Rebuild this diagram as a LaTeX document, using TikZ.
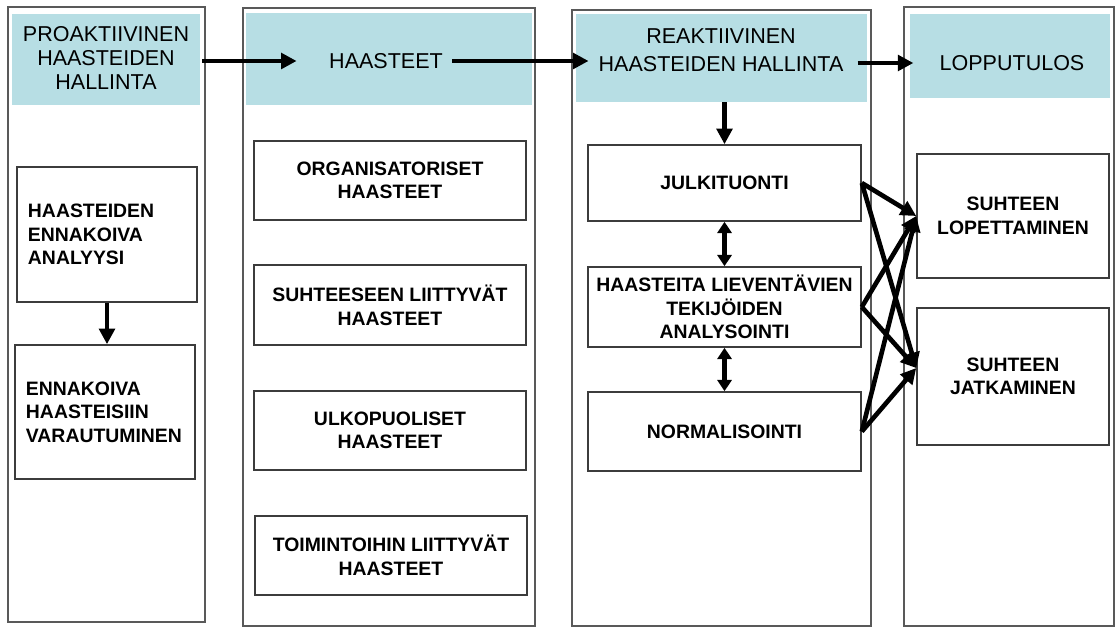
\documentclass[tikz,border=0pt]{standalone}
\usepackage{fontspec}
\setmainfont{Liberation Sans}
\usetikzlibrary{arrows.meta}
\definecolor{headfill}{RGB}{183,222,228}
\definecolor{boxline}{RGB}{60,60,60}
\begin{document}
\begin{tikzpicture}[x=0.025cm,y=-0.025cm,
    colframe/.style={draw=boxline!85,line width=0.9pt},
    headbox/.style={rectangle,fill=headfill,inner sep=0pt},
    headtext/.style={align=center,inner sep=0pt,font=\fontsize{15.3}{17.3}\selectfont},
    stepbox/.style={rectangle,draw=boxline,line width=1.1pt,align=center,
      font=\bfseries\fontsize{13.8}{16.8}\selectfont},
    leftbox/.style={stepbox,align=left,text width=3.95cm,inner xsep=0.275cm},
    arr/.style={line width=3.3pt,-{Triangle[length=11pt,width=11pt]}},
    darr/.style={line width=3.3pt,{Triangle[length=8pt,width=10pt]}-{Triangle[length=8pt,width=10pt]}}]
  \path[use as bounding box,fill=white] (0,0) rectangle (1115,628);

  \draw[colframe] (8,7) rectangle (205,622);
  \draw[colframe] (243,8) rectangle (535,626);
  \draw[colframe] (572,10) rectangle (871,626);
  \draw[colframe] (904,7) rectangle (1114,626);

  \node[headbox,minimum width=4.7cm,minimum height=2.275cm] (hf1) at (106,59.5) {};
  \node[headbox,minimum width=7.15cm,minimum height=2.3cm] (hf2) at (389,59) {};
  \node[headbox,minimum width=7.275cm,minimum height=2.2cm] (hf3) at (721.5,58) {};
  \node[headbox,minimum width=5cm,minimum height=2.1cm] (hf4) at (1010,56) {};

  \node[headtext] (h1) at (106,58) {PROAKTIIVINEN\\HAASTEIDEN\\HALLINTA};
  \node[headtext] (h2) at (386,61) {HAASTEET};
  \node[headtext] (h3) at (721,50) {REAKTIIVINEN\\[3pt]HAASTEIDEN HALLINTA};
  \node[headtext] (h4) at (1012,63) {LOPPUTULOS};

  \node[leftbox,minimum height=3.375cm] (a1) at (107,234.5) {HAASTEIDEN\\ENNAKOIVA\\ANALYYSI};
  \node[leftbox,minimum height=3.35cm] (a2) at (105,412) {ENNAKOIVA\\HAASTEISIIN\\VARAUTUMINEN};

  \node[stepbox,minimum width=6.8cm,minimum height=1.975cm] (o1) at (390,180.5) {ORGANISATORISET\\HAASTEET};
  \node[stepbox,minimum width=6.8cm,minimum height=2cm] (o2) at (390,305) {SUHTEESEEN LIITTYVÄT\\HAASTEET};
  \node[stepbox,minimum width=6.8cm,minimum height=1.975cm] (o3) at (390,430.5) {ULKOPUOLISET\\HAASTEET};
  \node[stepbox,minimum width=6.8cm,minimum height=1.975cm] (o4) at (391,555.5) {TOIMINTOIHIN LIITTYVÄT\\HAASTEET};

  \node[stepbox,minimum width=6.825cm,minimum height=1.9cm] (r1) at (724.5,183) {JULKITUONTI};
  \node[stepbox,minimum width=6.825cm,minimum height=2cm] (r2) at (724.5,307) {HAASTEITA LIEVENTÄVIEN\\TEKIJÖIDEN\\ANALYSOINTI};
  \node[stepbox,minimum width=6.825cm,minimum height=1.975cm] (r3) at (724.5,431.5) {NORMALISOINTI};

  \node[stepbox,minimum width=4.8cm,minimum height=3.1cm] (e1) at (1013,216) {SUHTEEN\\LOPETTAMINEN};
  \node[stepbox,minimum width=4.8cm,minimum height=3.425cm] (e2) at (1013,376.5) {SUHTEEN\\JATKAMINEN};

  \draw[arr,shorten <=9pt,shorten >=23pt] (h1.east |- h2.west) -- (h2.west);
  \draw[arr,shorten <=6.5pt,shorten >=7pt] (h2.east) -- (h2.east -| h3.west);
  \draw[arr,shorten <=10pt,shorten >=18.5pt] (h3.east |- h4.west) -- (h4.west);

  \draw[arr] (a1.south) -- (a1.south |- a2.north);
  \draw[arr] (r1.north |- hf3.south) -- (r1.north);
  \draw[darr] (r1.south) -- (r2.north);
  \draw[darr] (r2.south) -- (r3.north);

  \draw[arr] (r1.east) -- (e1.west);
  \draw[arr] (r1.east) -- (e2.175);
  \draw[arr] (r2.east) -- (e1.west);
  \draw[arr] (r2.east) -- (e2.175);
  \draw[arr] (r3.east) -- (e1.west);
  \draw[arr] (r3.east) -- (e2.175);
\end{tikzpicture}
\end{document}
